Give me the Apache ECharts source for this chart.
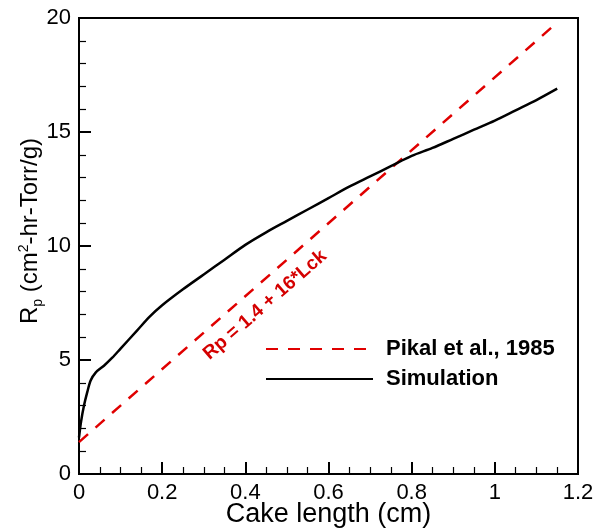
<!DOCTYPE html>
<html><head><meta charset="utf-8">
<script src="https://cdn.jsdelivr.net/npm/echarts@6/dist/echarts.min.js"></script>
<style>html,body{margin:0;padding:0;background:#fff}#c{width:595px;height:528px}</style>
</head><body><div id="c"></div>
<script>
const simX = [0,0.005,0.012,0.02,0.028,0.04,0.06,0.08,0.1,0.14,0.17,0.2,0.25,0.3,0.35,0.4,0.45,0.5,0.55,0.6,0.65,0.7,0.75,0.8,0.85,0.9,0.95,1.0,1.05,1.1,1.15];
const simY = [1.6,2.3,3.0,3.6,4.1,4.45,4.75,5.1,5.5,6.3,6.9,7.4,8.1,8.75,9.4,10.05,10.6,11.1,11.6,12.1,12.6,13.05,13.5,13.95,14.3,14.7,15.1,15.5,15.95,16.4,16.9];
const pikalX = [0,1.15];
const pikalY = [1.4,19.8];
const seriesNames = ['Pikal et al., 1985','Simulation'];
const annotation = 'Rp = 1.4 + 16*Lck';
const xName = 'Cake length (cm)';

const font = 'Liberation Sans, Arial, sans-serif';
const chart = echarts.init(document.getElementById('c'));
function axis(extra){
  return Object.assign({
    type:'value',
    axisLine:{show:true,lineStyle:{color:'#000',width:2}},
    axisTick:{show:true,inside:true,length:12,lineStyle:{color:'#000',width:2}},
    splitLine:{show:false}
  },extra);
}
chart.setOption({
  animation:false,
  grid:{left:79,top:18,right:17,bottom:54,show:true,borderColor:'#000',borderWidth:2,containLabel:false,outerBoundsMode:'none'},
  xAxis:axis({min:0,max:1.2,interval:0.2,name:xName,nameLocation:'middle',nameGap:27,nameMoveOverlap:false,
    nameTextStyle:{color:'#000',fontSize:27,fontFamily:font,verticalAlign:'top'},
    minorTick:{show:true,splitNumber:4,length:7,lineStyle:{color:'#000',width:1.2}},
    axisLabel:{color:'#000',fontSize:22,fontFamily:font,margin:8}}),
  yAxis:axis({min:0,max:20,interval:5,
    minorTick:{show:true,splitNumber:5,length:7,lineStyle:{color:'#000',width:1.2}},
    axisLabel:{color:'#000',fontSize:22,fontFamily:font,margin:8}}),
  legend:{orient:'vertical',left:260,top:333,itemWidth:107,itemHeight:20,itemGap:8,
    data:seriesNames,itemStyle:{opacity:0},
    textStyle:{color:'#000',fontSize:22,fontWeight:'bold',fontFamily:font,padding:[0,0,0,8]}},
  series:[
    {name:seriesNames[0],type:'line',symbol:'none',data:pikalX.map((x,i)=>[x,pikalY[i]]),
      lineStyle:{color:'#e00000',width:2.5,type:[12,10]},itemStyle:{color:'#e00000'}},
    {name:seriesNames[1],type:'line',symbol:'none',smooth:0.3,data:simX.map((x,i)=>[x,simY[i]]),
      lineStyle:{color:'#000',width:2.5},itemStyle:{color:'#000'}}
  ],
  graphic:[
    {type:'text',x:265,y:305,rotation:41*Math.PI/180,
      style:{text:annotation,fill:'#d40000',fontSize:19,fontWeight:'bold',fontFamily:font,align:'center',verticalAlign:'middle'}},
    {type:'text',x:30,y:231,rotation:Math.PI/2,
      style:{text:'{a|R}{sub|p}{a| (cm}{sup|2}{a|-hr-Torr/g)}',align:'center',verticalAlign:'middle',
        rich:{
          a:{fontSize:24,fontFamily:font,fill:'#000',lineHeight:30},
          sub:{fontSize:14,fontFamily:font,fill:'#000',verticalAlign:'bottom',lineHeight:14},
          sup:{fontSize:14,fontFamily:font,fill:'#000',verticalAlign:'top',lineHeight:14,padding:[2,0,0,0]}
        }}}
  ]
});
</script></body></html>
